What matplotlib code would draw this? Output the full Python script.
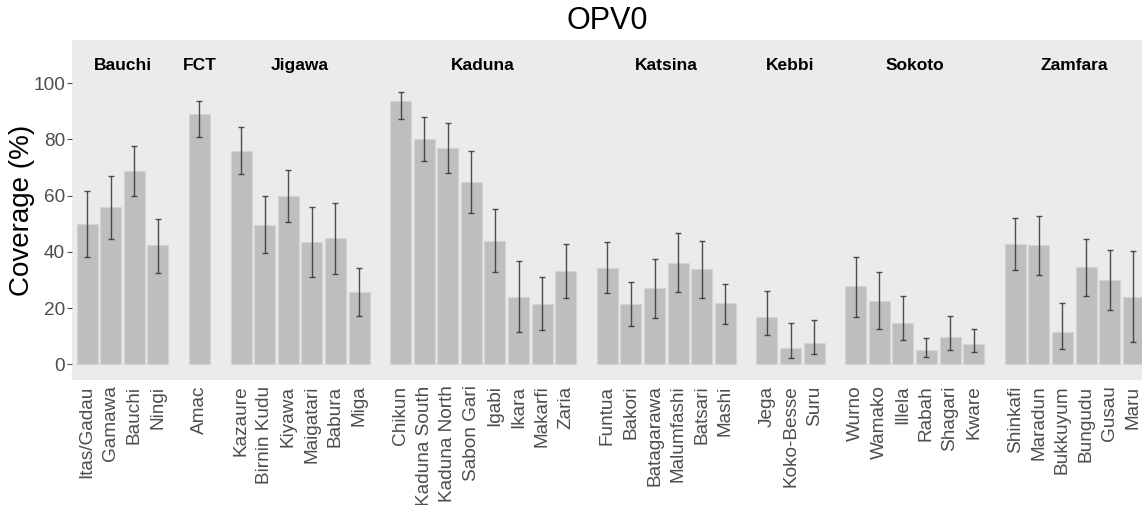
import numpy as np
import matplotlib.pyplot as plt

# ============================================
# DATA
# ============================================

states = ["Bauchi", "FCT", "Jigawa", "Kaduna", "Katsina", "Kebbi", "Sokoto", "Zamfara"]

lgas = [
    ["Itas/Gadau", "Gamawa", "Bauchi", "Ningi"],
    ["Amac"],
    ["Kazaure", "Birnin Kudu", "Kiyawa", "Maigatari", "Babura", "Miga"],
    ["Chikun", "Kaduna South", "Kaduna North", "Sabon Gari", "Igabi", "Ikara", "Makarfi", "Zaria"],
    ["Funtua", "Bakori", "Batagarawa", "Malumfashi", "Batsari", "Mashi"],
    ["Jega", "Koko-Besse", "Suru"],
    ["Wurno", "Wamako", "Illela", "Rabah", "Shagari", "Kware"],
    ["Shinkafi", "Maradun", "Bukkuyum", "Bungudu", "Gusau", "Maru"],
]

coverage = [
    [50.0, 55.9, 68.7, 42.3],
    [89.2],
    [76.0, 49.7, 59.9, 43.4, 44.8, 25.7],
    [93.7, 80.1, 77.0, 64.8, 44.0, 24.1, 21.5, 33.2],
    [34.2, 21.5, 27.0, 36.1, 33.8, 21.7],
    [16.8, 5.8, 7.7],
    [27.8, 22.5, 14.7, 5.1, 9.7, 7.2],
    [42.8, 42.3, 11.4, 34.5, 29.9, 24.1],
]

ci_low = [
    [38.0, 44.5, 59.8, 32.5],
    [80.8],
    [67.6, 39.5, 50.7, 31.0, 32.3, 17.2],
    [87.2, 72.4, 68.0, 53.7, 32.7, 11.5, 12.1, 23.5],
    [25.3, 13.5, 16.4, 25.6, 23.6, 14.5],
    [10.4, 2.1, 3.6],
    [16.8, 12.5, 8.5, 2.6, 5.1, 4.3],
    [33.6, 31.9, 5.3, 24.4, 19.2, 7.8],
]

ci_high = [
    [61.8, 66.9, 77.6, 51.8],
    [93.8],
    [84.5, 59.8, 69.3, 55.8, 57.5, 34.4],
    [96.8, 87.9, 85.8, 75.8, 55.2, 36.7, 31.0, 42.9],
    [43.4, 29.4, 37.6, 46.7, 44.0, 28.7],
    [26.2, 14.6, 15.7],
    [38.2, 32.7, 24.2, 9.4, 17.1, 12.5],
    [52.0, 52.7, 21.7, 44.6, 40.6, 40.2],
]

# ============================================
# POSITIONS
# ============================================

group_gap = 1.76
xs, names, vals, lo, hi, centers = [], [], [], [], [], []
start = 0.0
for i in range(len(states)):
    pos = start + np.arange(len(lgas[i]))
    xs.extend(pos)
    names.extend(lgas[i])
    vals.extend(coverage[i])
    lo.extend(ci_low[i])
    hi.extend(ci_high[i])
    centers.append(pos.mean())
    start = pos[-1] + group_gap

xs = np.array(xs)
vals = np.array(vals)
yerr = np.array([vals - np.array(lo), np.array(hi) - vals])

# ============================================
# PLOT
# ============================================

plt.rcParams["font.family"] = ["Liberation Sans", "DejaVu Sans"]

fig = plt.figure(figsize=(11.42, 5.05), dpi=100)
ax = fig.add_axes([72 / 1142, 1 - 380 / 505, 1 - 72 / 1142, 340 / 505])
ax.set_facecolor("#EBEBEB")

ax.bar(xs, vals, width=0.89, color="#BEBEBE", edgecolor="#D4D4D4", linewidth=0.8, zorder=2)
ax.errorbar(xs, vals, yerr=yerr, fmt="none", ecolor="#333333", elinewidth=1.0,
            capsize=2.4, capthick=1.0, alpha=0.85, zorder=3)

for i, s in enumerate(states):
    ax.text(centers[i], 106.2, s, ha="center", va="center", fontsize=12.5,
            fontweight="bold", color="black")

ax.set_xlim(xs[0] - 0.64, xs[-1] + 0.37)
ax.set_ylim(-5.6, 115.4)
ax.set_yticks([0, 20, 40, 60, 80, 100])
ax.set_xticks(xs)
ax.set_xticklabels(names, rotation=90, fontsize=13.7, color="#4D4D4D")
ax.tick_params(axis="x", length=0, pad=4)
ax.tick_params(axis="y", length=3.5, color="#4D4D4D", labelsize=13.7, labelcolor="#4D4D4D", pad=1.5)
for sp in ax.spines.values():
    sp.set_visible(False)

ax.set_ylabel("Coverage (%)", fontsize=20, color="black")
ax.yaxis.set_label_coords(-0.0346, 0.5)
fig.text((72 + 1142) / 2 / 1142, 1 - 21 / 505, "OPV0", ha="center", va="center",
         fontsize=22, color="black")

plt.savefig("out.png", dpi=100)
